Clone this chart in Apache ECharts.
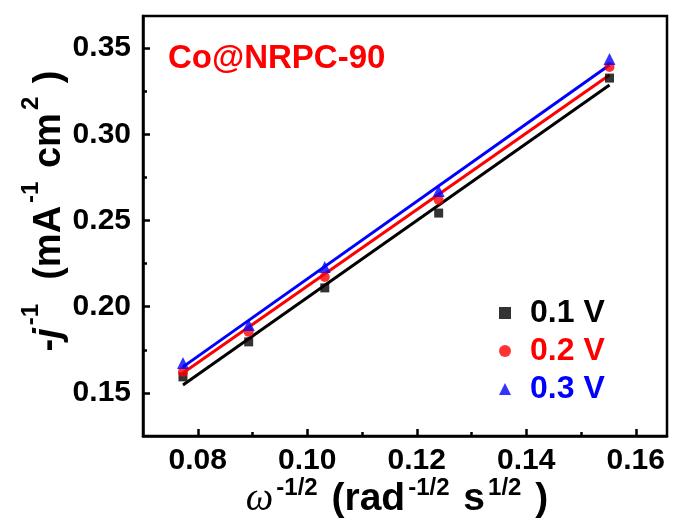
<!DOCTYPE html>
<html>
<head>
<meta charset="utf-8">
<script src="https://cdn.jsdelivr.net/npm/echarts@6/dist/echarts.min.js"></script>
<style>
  html, body { margin: 0; padding: 0; background: #fff; }
  #chart { width: 674px; height: 524px; }
</style>
</head>
<body>
<div id="chart"></div>
<script>
// omega^-1/2 for the five rotation rates (rad^-1/2 s^1/2)
const omegaInvSqrt = [0.0773, 0.0893, 0.1032, 0.1240, 0.1552];

// -1/j measured at each potential (mA^-1 cm^2)
const inv_j_01V = [0.1593, 0.1796, 0.2109, 0.2543, 0.3326];
const inv_j_02V = [0.1622, 0.1854, 0.2172, 0.2619, 0.3390];
const inv_j_03V = [0.1674, 0.1894, 0.2230, 0.2671, 0.3436];

// Linear fit endpoints (x, y) for each potential
const fitX = [0.0773, 0.1552];
const fit_01V = [0.1546, 0.3286];
const fit_02V = [0.1616, 0.3344];
const fit_03V = [0.1651, 0.3402];

// Tick positions
const xMajorTicks = [0.08, 0.10, 0.12, 0.14, 0.16];
const xMinorTicks = [0.09, 0.11, 0.13, 0.15];
const yMajorTicks = [0.15, 0.20, 0.25, 0.30, 0.35];
const yMinorTicks = [0.175, 0.225, 0.275, 0.325];

const seriesNames = ['0.1 V', '0.2 V', '0.3 V'];
const seriesColors = ['#000000', '#ff0000', '#0000ff'];
const seriesSymbols = ['rect', 'circle', 'triangle'];
const symbolSizes = [9, 10, 12];

const FONT = '"Liberation Sans", Arial, sans-serif';
const X_MIN = 0.07, X_MAX = 0.1657;
const Y_MIN = 0.125, Y_MAX = 0.3686;

const pairs = (xs, ys) => xs.map((x, i) => [x, ys[i]]);
const measured = [inv_j_01V, inv_j_02V, inv_j_03V];
const fits = [fit_01V, fit_02V, fit_03V];

const series = [];
fits.forEach((fy, i) => {
  series.push({
    name: seriesNames[i] + ' fit',
    type: 'line',
    data: pairs(fitX, fy),
    showSymbol: false,
    symbol: 'none',
    lineStyle: { color: seriesColors[i], width: 3 },
    z: 2,
    silent: true
  });
});
measured.forEach((ys, i) => {
  series.push({
    name: seriesNames[i],
    type: 'scatter',
    data: pairs(omegaInvSqrt, ys),
    symbol: seriesSymbols[i],
    symbolSize: symbolSizes[i],
    itemStyle: { color: seriesColors[i] },
    z: 3
  });
});

// Rich text styles for axis titles: main text plus raised superscripts
const titleRich = (size, supSize, raise) => ({
  t: { fontFamily: FONT, fontWeight: 'bold', fontSize: size, color: '#000', verticalAlign: 'bottom' },
  ti: { fontFamily: FONT, fontWeight: 'bold', fontStyle: 'italic', fontSize: size, color: '#000', verticalAlign: 'bottom' },
  w: { fontFamily: '"Liberation Serif", serif', fontStyle: 'italic', fontSize: size, color: '#000', verticalAlign: 'bottom' },
  sup: { fontFamily: FONT, fontWeight: 'bold', fontSize: supSize, color: '#000', verticalAlign: 'bottom', padding: [0, 3, raise, 3] }
});

const tickLine = { color: '#000', width: 2.5 };

const chart = echarts.init(document.getElementById('chart'), null, { renderer: 'canvas' });
chart.setOption({
  animation: false,
  backgroundColor: '#fff',
  grid: {
    left: 143, right: 7, top: 16, bottom: 88,
    outerBoundsMode: 'none',
    containLabel: false,
    show: true, borderColor: '#000', borderWidth: 2.5
  },
  title: {
    text: 'Co@NRPC-90',
    left: 163, top: 37,
    textStyle: { color: '#ff0000', fontFamily: FONT, fontWeight: 'bold', fontSize: 33 }
  },
  legend: {
    orient: 'vertical',
    left: 494, top: 292,
    itemWidth: 12, itemHeight: 12,
    itemGap: 6,
    data: seriesNames.map((n, i) => ({
      name: n,
      textStyle: { color: seriesColors[i] }
    })),
    textStyle: { fontFamily: FONT, fontWeight: 'bold', fontSize: 32, padding: [0, 0, 0, 14] }
  },
  xAxis: [{
    type: 'value',
    min: X_MIN, max: X_MAX,
    axisLine: { show: true, lineStyle: { color: '#000', width: 2.5 } },
    axisTick: { show: true, inside: true, length: 7, lineStyle: tickLine, customValues: xMajorTicks },
    splitLine: { show: false },
    axisLabel: {
      color: '#000', fontFamily: FONT, fontWeight: 'bold', fontSize: 30, margin: 10,
      customValues: xMajorTicks,
      formatter: v => v.toFixed(2)
    },
    name: '{w|\u03c9}{sup|-1/2}{t| (rad}{sup|-1/2}{t| s}{sup|1/2}{t| )}',
    nameLocation: 'middle',
    nameMoveOverlap: false,
    nameGap: 40,
    nameTextStyle: {
      verticalAlign: 'top',
      padding: [0, 16, 0, 0],
      rich: titleRich(39, 24, 19)
    }
  }, {
    type: 'value',
    min: X_MIN, max: X_MAX,
    position: 'bottom',
    axisLine: { show: false },
    axisTick: { show: true, inside: true, length: 4, lineStyle: tickLine, customValues: xMinorTicks },
    axisLabel: { show: false },
    splitLine: { show: false }
  }],
  yAxis: [{
    type: 'value',
    min: Y_MIN, max: Y_MAX,
    axisLine: { show: true, lineStyle: { color: '#000', width: 2.5 } },
    axisTick: { show: true, inside: true, length: 7, lineStyle: tickLine, customValues: yMajorTicks },
    splitLine: { show: false },
    axisLabel: {
      color: '#000', fontFamily: FONT, fontWeight: 'bold', fontSize: 30, margin: 12,
      customValues: yMajorTicks,
      formatter: v => v.toFixed(2)
    },
    name: '{t|-}{ti|j}{sup|-1}{t|  (mA}{sup|-1}{t| cm}{sup|2}{t| )}',
    nameLocation: 'middle',
    nameMoveOverlap: false,
    nameGap: 74,
    nameRotate: 90,
    nameTextStyle: {
      verticalAlign: 'bottom',
      padding: [0, 0, 0, 30],
      rich: titleRich(38, 24, 26)
    }
  }, {
    type: 'value',
    min: Y_MIN, max: Y_MAX,
    position: 'left',
    axisLine: { show: false },
    axisTick: { show: true, inside: true, length: 4, lineStyle: tickLine, customValues: yMinorTicks },
    axisLabel: { show: false },
    splitLine: { show: false }
  }],
  series: series
});
</script>
</body>
</html>
